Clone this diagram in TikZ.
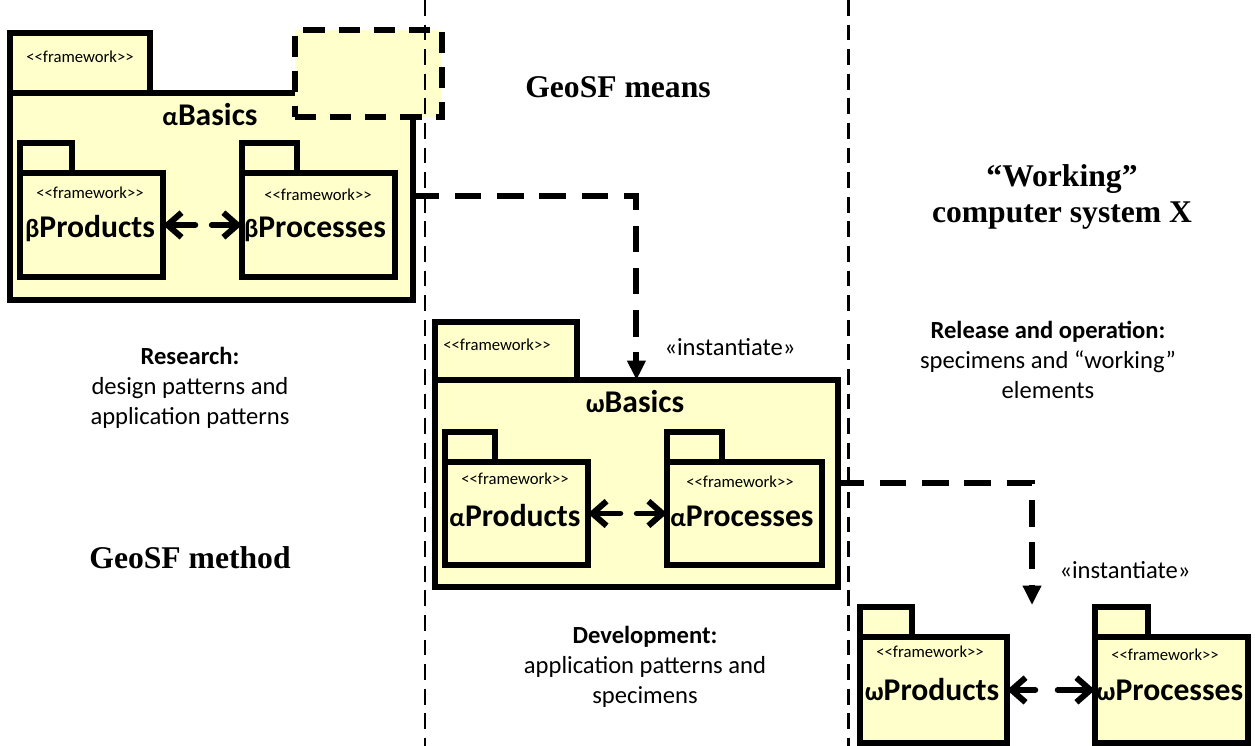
\documentclass[tikz,border=0pt]{standalone}
\usepackage{fontspec}
\setmainfont{Liberation Serif}
\newfontfamily\calib{Carlito}
\usetikzlibrary{arrows.meta}
\definecolor{pkgyellow}{RGB}{255,255,204}
\newcommand\fwstereo{<\kern0pt<framework>\kern0pt>}
\newcommand\gk[1]{{\fontsize{15}{15}\selectfont#1}}

\begin{document}
\begin{tikzpicture}[x=0.02cm, y=-0.02cm,
    every node/.style={font=\calib},
    pkg/.style={rectangle, draw, fill=pkgyellow, line width=3.4pt, anchor=north west, inner sep=0pt, outer sep=0pt},
    subpkg/.style={pkg, line width=3pt},
    stereo/.style={font=\calib\fontsize{9.5}{11}\selectfont},
    pkgname/.style={font=\calib\bfseries\fontsize{18}{21}\selectfont},
    note/.style={font=\calib\fontsize{14}{17}\selectfont, align=center},
    heading/.style={font=\bfseries\fontsize{18}{20}\selectfont, align=center},
    divider/.style={line width=1.7pt, dash pattern=on 9pt off 5pt},
    conn/.style={line width=3.4pt, dash pattern=on 15pt off 9pt, -{Triangle[length=11pt, width=10pt]}},
    barb/.style={line width=3.4pt, line cap=round, arrows={-}},
    bidirL/.style={barb, {Straight Barb[length=8pt, width=14pt]}-, shorten >=#1},
    bidirR/.style={barb, -{Straight Barb[length=8pt, width=14pt]}, shorten <=#1},
  ]
  \useasboundingbox (0,0) rectangle (1255,746);

  % alpha basics (research)
  \node[pkg, minimum width=2.8cm, minimum height=1.2cm] (aTab) at (10,33) {};
  \node[pkg, minimum width=8.06cm, minimum height=4.14cm] (aBody) at (10,93) {};
  \node[stereo] (aStereo) at (80,57) {\fwstereo};
  \node[pkg, dash pattern=on 12pt off 8pt, minimum width=2.94cm, minimum height=1.74cm] (aGhost) at (295,30) {};
  \node[pkgname] (aName) at (210,115) {\gk{α}Basics};

  \node[subpkg, minimum width=1.04cm, minimum height=0.6cm] (bProdTab) at (20,143) {};
  \node[subpkg, minimum width=2.86cm, minimum height=2.08cm] (bProd) at (20,173) {};
  \node[stereo] at (90,193) {\fwstereo};
  \node[pkgname] at (90,229) {\gk{β}Products};

  \node[subpkg, minimum width=1.1cm, minimum height=0.6cm] (bProcTab) at (242,143) {};
  \node[subpkg, minimum width=3.06cm, minimum height=2.08cm] (bProc) at (242,173) {};
  \node[stereo] at (318,195) {\fwstereo};
  \node[pkgname] at (315,229) {\gk{β}Processes};

  \draw[bidirL=26.6pt] (bProd) -- (bProc);
  \draw[bidirR=27.8pt] (bProd) -- (bProc);

  % omega basics (development)
  \node[pkg, minimum width=2.84cm, minimum height=1.16cm] (oTab) at (435,322) {};
  \node[pkg, minimum width=8.06cm, minimum height=4.14cm] (oBody) at (435,380) {};
  \node[stereo] (oStereo) at (497,345) {\fwstereo};
  \node[pkgname] (oName) at (635,402) {\gk{ω}Basics};

  \node[subpkg, minimum width=1.0cm, minimum height=0.6cm] (aProdTab) at (445,432) {};
  \node[subpkg, minimum width=2.86cm, minimum height=2.06cm] (aProd) at (445,462) {};
  \node[stereo] at (515,479) {\fwstereo};
  \node[pkgname] at (515,516) {\gk{α}Products};

  \node[subpkg, minimum width=1.1cm, minimum height=0.6cm] (aProcTab) at (667,432) {};
  \node[subpkg, minimum width=3.1cm, minimum height=2.06cm] (aProc) at (667,462) {};
  \node[stereo] at (740,482) {\fwstereo};
  \node[pkgname] at (742,516) {\gk{α}Processes};

  \draw[bidirL=26.6pt] (aProd) -- (aProc);
  \draw[bidirR=27.8pt] (aProd) -- (aProc);

  % omega packages (working system)
  \node[subpkg, minimum width=1.04cm, minimum height=0.6cm] (oProdTab) at (860,607) {};
  \node[subpkg, minimum width=2.94cm, minimum height=2.12cm] (oProd) at (860,637) {};
  \node[stereo] at (930,652) {\fwstereo};
  \node[pkgname] at (932,690) {\gk{ω}Products};

  \node[subpkg, minimum width=1.06cm, minimum height=0.6cm] (oProcTab) at (1095,607) {};
  \node[subpkg, minimum width=3.06cm, minimum height=2.12cm] (oProc) at (1095,637) {};
  \node[stereo] at (1165,655) {\fwstereo};
  \node[pkgname] at (1170,690) {\gk{ω}Processes};

  \draw[bidirL=34pt] (oProd) -- (oProc);
  \draw[bidirR=28.9pt] (oProd) -- (oProc);

  % instantiation
  \coordinate (oTarget) at (1032,605);
  \draw[conn] (aBody.east) -| (oBody.north);
  \draw[conn] (oBody.east) -| (oTarget);
  \node[note] (inst1) at (730,347) {«instantiate»};
  \node[note] (inst2) at (1125,570) {«instantiate»};

  % columns
  \coordinate (d1t) at (425,0);
  \coordinate (d1b) at (425,746);
  \coordinate (d2t) at (848,0);
  \coordinate (d2b) at (848,746);
  \draw[divider] (d1t) -- (d1b);
  \draw[divider] (d2t) -- (d2b);

  \node[heading] (means) at (618,87) {GeoSF means};
  \node[heading] (method) at (190,558) {GeoSF method};
  \node[heading] (system) at (1062,197) {“Working”\\computer system X};

  \node[note] (research) at (190,388) {\textbf{Research:}\\design patterns and\\application patterns};
  \node[note] (devel) at (645,667) {\textbf{Development:}\\application patterns and\\specimens};
  \node[note] (release) at (1048,360) {\textbf{Release and operation:}\\specimens and “working”\\elements};
\end{tikzpicture}
\end{document}
